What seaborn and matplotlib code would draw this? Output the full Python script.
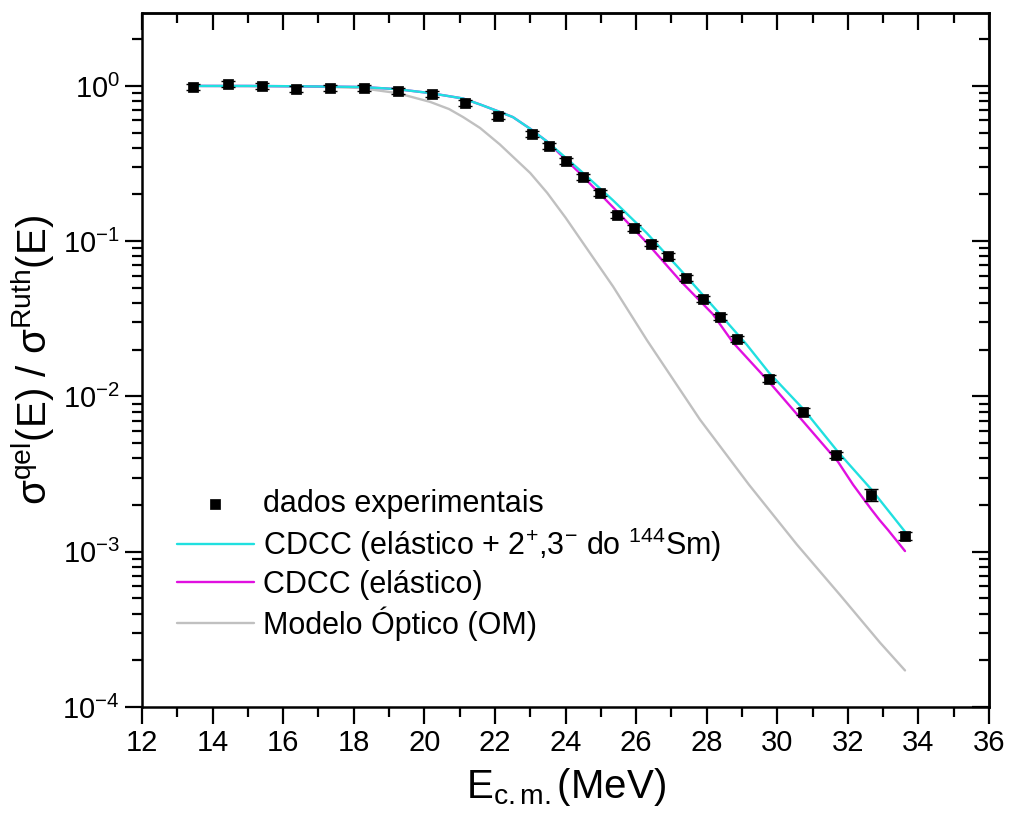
import numpy as np
import pandas as pd
import matplotlib
matplotlib.use("Agg")
import matplotlib.pyplot as plt
import seaborn as sns
from matplotlib.ticker import LogLocator, MultipleLocator, NullFormatter

# ---------------- data ----------------
E_exp = [13.45, 14.44, 15.40, 16.36, 17.33, 18.29, 19.25, 20.22, 21.15, 22.09,
         23.05, 23.53, 24.01, 24.50, 24.98, 25.46, 25.94, 26.42, 26.90, 27.41,
         27.90, 28.38, 28.86, 29.77, 30.73, 31.67, 32.66, 33.62]
Y_exp = [0.985, 1.03, 1.00, 0.956, 0.97, 0.97, 0.93, 0.888, 0.777, 0.641,
         0.491, 0.41, 0.329, 0.26, 0.205, 0.148, 0.122, 0.0965, 0.0805, 0.058,
         0.0425, 0.0326, 0.0235, 0.0130, 0.0080, 0.0042, 0.00233, 0.00127]
Rel_err = [0.04, 0.04, 0.04, 0.04, 0.04, 0.04, 0.04, 0.04, 0.04, 0.04,
           0.04, 0.04, 0.04, 0.04, 0.04, 0.04, 0.04, 0.04, 0.04, 0.04,
           0.04, 0.04, 0.05, 0.05, 0.05, 0.05, 0.09, 0.06]

E_cdcc_full = [13.45, 15.0, 16.5, 18.2, 19.2, 20.16, 21.1, 21.58, 22.14, 22.51,
               23.0, 23.47, 24.40, 25.34, 26.30, 27.24, 28.17, 29.14, 29.77,
               30.76, 31.72, 32.68, 33.65]
Y_cdcc_full = [1.0, 1.0, 0.995, 0.985, 0.955, 0.90, 0.83, 0.76, 0.68, 0.63,
               0.53, 0.44, 0.288, 0.184, 0.113, 0.066, 0.0383, 0.0215, 0.0142,
               0.0082, 0.0044, 0.0025, 0.00132]

E_cdcc_el = [13.45, 15.0, 16.5, 18.2, 19.2, 20.16, 21.1, 21.58, 22.14, 22.51,
             23.0, 23.47, 24.40, 25.34, 26.30, 27.24, 28.17, 28.75, 29.77,
             30.76, 31.72, 32.15, 32.66, 32.90, 33.14, 33.62]
Y_cdcc_el = [1.0, 1.0, 0.995, 0.985, 0.955, 0.90, 0.83, 0.76, 0.68, 0.63,
             0.53, 0.44, 0.275, 0.166, 0.098, 0.056, 0.034, 0.0222, 0.0124,
             0.0068, 0.0038, 0.0027, 0.00188, 0.00160, 0.00138, 0.00101]

E_om = [13.45, 16.0, 17.3, 18.18, 19.23, 20.16, 20.70, 21.10, 21.58, 22.14,
        22.51, 23.0, 23.48, 24.0, 24.41, 25.35, 26.31, 27.81, 29.20, 30.56,
        31.80, 32.91, 33.62]
Y_om = [1.0, 0.995, 0.985, 0.97, 0.90, 0.79, 0.71, 0.63, 0.536, 0.42,
        0.35, 0.275, 0.205, 0.142, 0.104, 0.051, 0.023, 0.0071, 0.0027, 0.00111,
        0.00052, 0.00026, 0.000172]

X_TICKS = [12, 14, 16, 18, 20, 22, 24, 26, 28, 30, 32, 34, 36]

labels = {
    "exp": "dados experimentais",
    "full": r"CDCC (elástico + 2$^{+}$,3$^{-}$ do $^{144}$Sm)",
    "el": "CDCC (elástico)",
    "om": "Modelo Óptico (OM)",
}

# ---------------- style ----------------
sns.set_theme(style="ticks")
plt.rcParams["font.family"] = ["Liberation Sans", "DejaVu Sans"]
plt.rcParams["mathtext.fontset"] = "custom"
plt.rcParams["mathtext.rm"] = "Liberation Sans"
plt.rcParams["mathtext.it"] = "Liberation Sans:italic"
plt.rcParams["mathtext.bf"] = "Liberation Sans:bold"
plt.rcParams["mathtext.sf"] = "Liberation Sans"
plt.rcParams["text.color"] = "black"
plt.rcParams["axes.labelcolor"] = "black"
plt.rcParams["xtick.color"] = "black"
plt.rcParams["ytick.color"] = "black"

fig = plt.figure(figsize=(10.10, 8.23), dpi=100)
ax = fig.add_axes([142 / 1010, (823 - 707) / 823, (989 - 142) / 1010, (707 - 13) / 823])

df_full = pd.DataFrame({"E": E_cdcc_full, "Y": Y_cdcc_full})
df_el = pd.DataFrame({"E": E_cdcc_el, "Y": Y_cdcc_el})
df_om = pd.DataFrame({"E": E_om, "Y": Y_om})
df_exp = pd.DataFrame({"E": E_exp, "Y": Y_exp})

sns.lineplot(data=df_om, x="E", y="Y", ax=ax, color="#c0c0c0", lw=1.7,
             sort=False, label=labels["om"], zorder=2)
sns.lineplot(data=df_el, x="E", y="Y", ax=ax, color="#e010e0", lw=1.7,
             sort=False, label=labels["el"], zorder=3)
sns.lineplot(data=df_full, x="E", y="Y", ax=ax, color="#20e0e0", lw=1.7,
             sort=False, label=labels["full"], zorder=4)

yerr = np.array(Y_exp) * np.array(Rel_err)
ax.errorbar(E_exp, Y_exp, yerr=yerr, fmt="none", ecolor="black",
            elinewidth=1.0, capsize=5, capthick=1.0, zorder=5)
sns.scatterplot(data=df_exp, x="E", y="Y", ax=ax, marker="s", s=60,
                color="black", edgecolor="black", linewidth=0.5,
                label=labels["exp"], zorder=6)

ax.set_yscale("log")
ax.set_xlim(12, 36)
ax.set_ylim(1e-4, 2.95)

ax.set_xticks(X_TICKS)
ax.set_xticklabels([str(t) for t in X_TICKS])
ax.xaxis.set_minor_locator(MultipleLocator(1))
ax.yaxis.set_major_locator(LogLocator(base=10, numticks=10))
ax.yaxis.set_minor_locator(LogLocator(base=10, subs=np.arange(2, 10), numticks=20))
ax.yaxis.set_minor_formatter(NullFormatter())

for s in ax.spines.values():
    s.set_linewidth(1.8)
    s.set_color("black")
    s.set_visible(True)

ax.tick_params(axis="both", which="major", direction="out", length=12, width=1.6,
               labelsize=21, color="black", labelcolor="black", pad=4)
ax.tick_params(axis="both", which="minor", direction="out", length=7, width=1.6,
               color="black")

# top / right inward ticks without labels
secx = ax.secondary_xaxis("top")
secx.set_xticks(X_TICKS)
secx.xaxis.set_minor_locator(MultipleLocator(1))
secx.tick_params(axis="x", which="major", direction="in", length=12, width=1.6,
                 labeltop=False)
secx.tick_params(axis="x", which="minor", direction="in", length=7, width=1.6)
secx.spines["top"].set_linewidth(1.8)

secy = ax.secondary_yaxis("right")
secy.yaxis.set_major_locator(LogLocator(base=10, numticks=10))
secy.yaxis.set_minor_locator(LogLocator(base=10, subs=np.arange(2, 10), numticks=20))
secy.yaxis.set_minor_formatter(NullFormatter())
secy.tick_params(axis="y", which="major", direction="in", length=12, width=1.6,
                 labelright=False)
secy.tick_params(axis="y", which="minor", direction="in", length=7, width=1.6)
secy.spines["right"].set_linewidth(1.8)

ax.set_xlabel(r"E$_{\mathrm{c.m.}}$(MeV)", fontsize=29, labelpad=6, color="black")
ax.set_ylabel(r"σ$^{\mathrm{qel}}$(E) / σ$^{\mathrm{Ruth}}$(E)", fontsize=29,
              labelpad=4, color="black")

handles, labs = ax.get_legend_handles_labels()
order = [labs.index(labels[k]) for k in ["exp", "full", "el", "om"]]
leg = ax.legend([handles[i] for i in order], [labs[i] for i in order],
                loc="upper left", bbox_to_anchor=(0.02, 0.34), frameon=False,
                fontsize=22, handlelength=2.5, handletextpad=0.3,
                labelspacing=0.2, borderaxespad=0.2)
for t in leg.get_texts():
    t.set_color("black")

ax.grid(False)
fig.savefig("out.png", dpi=100, facecolor="white")
